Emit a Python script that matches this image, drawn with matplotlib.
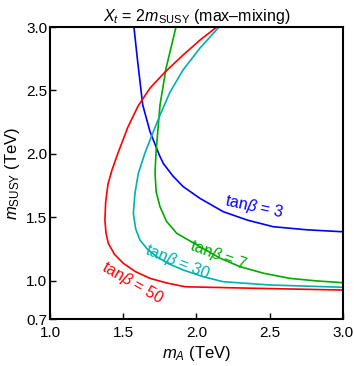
import matplotlib
matplotlib.use("Agg")
import matplotlib.pyplot as plt

plt.rcParams["font.family"] = ["Liberation Sans", "DejaVu Sans"]
plt.rcParams["mathtext.fontset"] = "custom"
plt.rcParams["mathtext.rm"] = "Liberation Sans"
plt.rcParams["mathtext.it"] = "Liberation Sans:italic"

# contour traces (m_A, m_SUSY) in TeV
tb3_x = [1.573, 1.596, 1.633, 1.683, 1.746, 1.773, 1.840, 1.910, 2.024, 2.183, 2.350, 2.524, 2.750, 3.0]
tb3_y = [3.0, 2.753, 2.386, 2.175, 1.992, 1.926, 1.825, 1.742, 1.650, 1.545, 1.478, 1.427, 1.403, 1.387]

tb7_x = [1.860, 1.792, 1.751, 1.724, 1.717, 1.725, 1.751, 1.795, 1.865, 2.024, 2.160, 2.297, 2.460, 2.638, 2.820, 3.0]
tb7_y = [3.0, 2.674, 2.385, 2.017, 1.847, 1.700, 1.584, 1.470, 1.375, 1.269, 1.180, 1.112, 1.060, 1.020, 1.000, 0.986]

tb30_x = [2.154, 2.024, 1.908, 1.819, 1.751, 1.696, 1.648, 1.603, 1.580, 1.569, 1.585, 1.614, 1.665, 1.728, 1.810, 1.910, 2.040, 2.181, 2.500, 3.0]
tb30_y = [3.0, 2.834, 2.661, 2.487, 2.306, 2.149, 2.007, 1.847, 1.690, 1.532, 1.410, 1.322, 1.250, 1.191, 1.135, 1.086, 1.035, 0.994, 0.968, 0.950]

tb50_x = [2.138, 2.024, 1.908, 1.785, 1.683, 1.601, 1.532, 1.464, 1.423, 1.396, 1.380, 1.375, 1.382, 1.398, 1.440, 1.500, 1.585, 1.683, 1.800, 1.922, 2.400, 3.0]
tb50_y = [3.0, 2.897, 2.779, 2.645, 2.519, 2.377, 2.212, 2.007, 1.873, 1.763, 1.620, 1.480, 1.380, 1.296, 1.210, 1.139, 1.072, 1.020, 0.983, 0.954, 0.942, 0.928]

labels = [r"tan$\it{\beta}$ = 3", r"tan$\it{\beta}$ = 7", r"tan$\it{\beta}$ = 30", r"tan$\it{\beta}$ = 50"]
label_x = [2.392, 2.147, 1.867, 1.560]
label_y = [1.582, 1.204, 1.149, 0.983]
label_rot = [-12, -20, -22, -30]

colors = ["#0000ff", "#00aa00", "#00b0b0", "#ff0000"]

fig = plt.figure(figsize=(3.54, 3.66), dpi=100)
ax = fig.add_axes([0.1412, 0.1284, 0.8277, 0.7978])

curves = [(tb3_x, tb3_y), (tb7_x, tb7_y), (tb30_x, tb30_y), (tb50_x, tb50_y)]
for (xs, ys), c in zip(curves, colors):
    ax.plot(xs, ys, color=c, lw=1.2)

for txt, lx, ly, rot, c in zip(labels, label_x, label_y, label_rot, colors):
    ax.text(lx, ly, txt, color=c, fontsize=11.5, rotation=rot,
            ha="center", va="center", rotation_mode="anchor")

ax.set_xlim(1.0, 3.0)
ax.set_ylim(0.7, 3.0)
ax.set_xticks([1.0, 1.5, 2.0, 2.5, 3.0])
ax.set_yticks([0.7, 1.0, 1.5, 2.0, 2.5, 3.0])
ax.set_xticklabels(["1.0", "1.5", "2.0", "2.5", "3.0"])
ax.set_yticklabels(["0.7", "1.0", "1.5", "2.0", "2.5", "3.0"])
ax.tick_params(direction="in", length=4, width=1, labelsize=11)
ax.tick_params(axis="x", pad=5)
ax.tick_params(axis="y", pad=2)
for s in ax.spines.values():
    s.set_linewidth(1.5)

ax.set_xlabel(r"$m_A$ (TeV)", fontsize=12, labelpad=3)
ax.set_ylabel(r"$m_{\rm SUSY}$ (TeV)", fontsize=12, labelpad=3)
ax.set_title(r"$X_t$ = 2$m_{\rm SUSY}$ (max–mixing)", fontsize=11.5, pad=4)

fig.savefig("out.png", dpi=100)
